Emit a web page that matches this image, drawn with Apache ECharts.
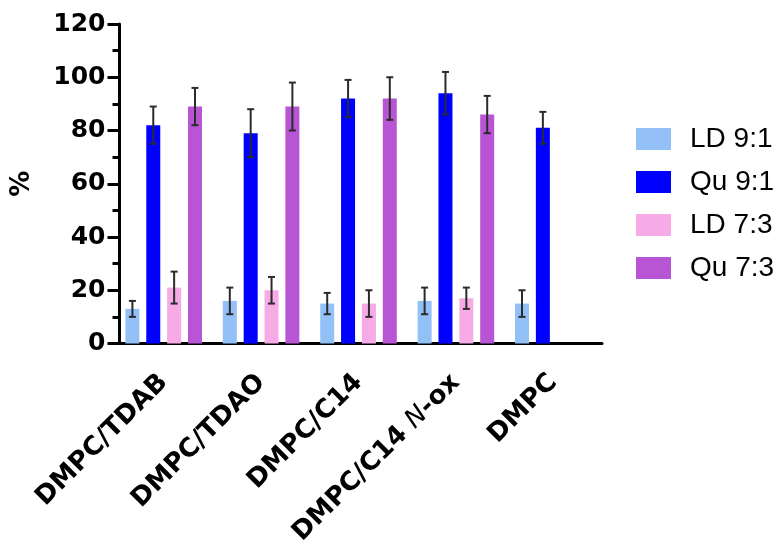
<!DOCTYPE html>
<html>
<head>
<meta charset="utf-8">
<script src="https://cdn.jsdelivr.net/npm/echarts@6/dist/echarts.min.js"></script>
<style>html,body{margin:0;padding:0;background:#fff}#c{width:782px;height:546px}</style>
</head>
<body>
<div id="c"></div>
<script>
const categories = ['DMPC/TDAB', 'DMPC/TDAO', 'DMPC/C14', 'DMPC/C14 N-ox', 'DMPC'];
const seriesNames = ['LD 9:1', 'Qu 9:1', 'LD 7:3', 'Qu 7:3'];
const ld91 = [13, 16, 15, 16, 15];
const ld91Err = [3, 5, 4, 5, 5];
const qu91 = [82, 79, 92, 94, 81];
const qu91Err = [7, 9, 7, 8, 6];
const ld73 = [21, 20, 15, 17, null];
const ld73Err = [6, 5, 5, 4, null];
const qu73 = [89, 89, 92, 86, null];
const qu73Err = [7, 9, 8, 7, null];
const yTicks = [0, 20, 40, 60, 80, 100, 120];

const colors = ['#93C1F7', '#0000FF', '#F6AAE6', '#B855D4'];
const values = [ld91, qu91, ld73, qu73];
const errors = [ld91Err, qu91Err, ld73Err, qu73Err];
const BAR_W = 14;
const BAR_GAP = 0.49;
const FONT = 'DejaVu Sans';

const chart = echarts.init(document.getElementById('c'));

const barSeries = values.map((vals, k) => ({
  name: seriesNames[k],
  type: 'bar',
  data: vals.map(v => v === null ? '-' : v),
  barWidth: BAR_W,
  barGap: (BAR_GAP * 100) + '%',
  itemStyle: { color: colors[k] },
  z: 2
}));

const errSeries = values.map((vals, k) => ({
  type: 'custom',
  z: 5,
  silent: true,
  encode: { x: 0, y: 1 },
  data: vals.map((v, i) => v === null ? null : [i, v, errors[k][i]]).filter(d => d),
  renderItem: function (params, api) {
    const idx = api.value(0), v = api.value(1), e = api.value(2);
    const pitch = BAR_W * (1 + BAR_GAP);
    const base = api.coord([idx, v]);
    const x = base[0] + (k - 1.5) * pitch;
    const top = api.coord([idx, v + e])[1];
    const bot = api.coord([idx, v - e])[1];
    const hw = 3.5;
    const st = { stroke: '#2b2b2b', lineWidth: 2 };
    return {
      type: 'group',
      children: [
        { type: 'line', shape: { x1: x, y1: top, x2: x, y2: bot }, style: st },
        { type: 'line', shape: { x1: x - hw, y1: top, x2: x + hw, y2: top }, style: st },
        { type: 'line', shape: { x1: x - hw, y1: bot, x2: x + hw, y2: bot }, style: st }
      ]
    };
  }
}));

chart.setOption({
  animation: false,
  backgroundColor: '#ffffff',
  grid: { left: 115, right: 180, top: 24, bottom: 202.5, containLabel: false, outerBoundsMode: 'none' },
  legend: {
    data: seriesNames,
    orient: 'vertical',
    left: 636,
    top: 125,
    padding: 0,
    icon: 'rect',
    itemWidth: 35,
    itemHeight: 22,
    itemGap: 15,
    selectedMode: false,
    textStyle: { fontFamily: 'Liberation Sans', fontSize: 28, color: '#000', padding: [0, 0, 0, 14] }
  },
  xAxis: {
    type: 'category',
    data: categories,
    axisLine: { lineStyle: { color: '#000', width: 3 } },
    axisTick: { alignWithLabel: true, length: 12, lineStyle: { color: '#000', width: 3 } },
    axisLabel: {
      rotate: 45,
      margin: 35,
      interval: 0,
      color: '#000',
      formatter: function (v) {
        if (v.indexOf(' N-') >= 0) {
          const p = v.split(' N');
          return '{b|' + p[0] + ' }{i|N}{b|' + p[1] + '}';
        }
        return '{b|' + v + '}';
      },
      rich: {
        b: { fontFamily: FONT, fontWeight: 'bold', fontSize: 26, color: '#000' },
        i: { fontFamily: FONT, fontWeight: 'normal', fontStyle: 'italic', fontSize: 26, color: '#000' }
      }
    }
  },
  yAxis: {
    type: 'value',
    min: yTicks[0],
    max: yTicks[yTicks.length - 1],
    interval: yTicks[1] - yTicks[0],
    offset: -4.5,
    name: '%',
    nameLocation: 'middle',
    nameGap: 84,
    nameTextStyle: { fontFamily: FONT, fontWeight: 'bold', fontSize: 26, color: '#000' },
    axisLine: { show: true, lineStyle: { color: '#000', width: 3 } },
    axisTick: { show: true, length: 12, lineStyle: { color: '#000', width: 3 } },
    minorTick: { show: true, splitNumber: 2, length: 7, lineStyle: { color: '#000', width: 3 } },
    splitLine: { show: false },
    axisLabel: { fontFamily: FONT, fontWeight: 'bold', fontSize: 25, color: '#000', margin: 14 }
  },
  series: barSeries.concat(errSeries)
});
</script>
</body>
</html>
